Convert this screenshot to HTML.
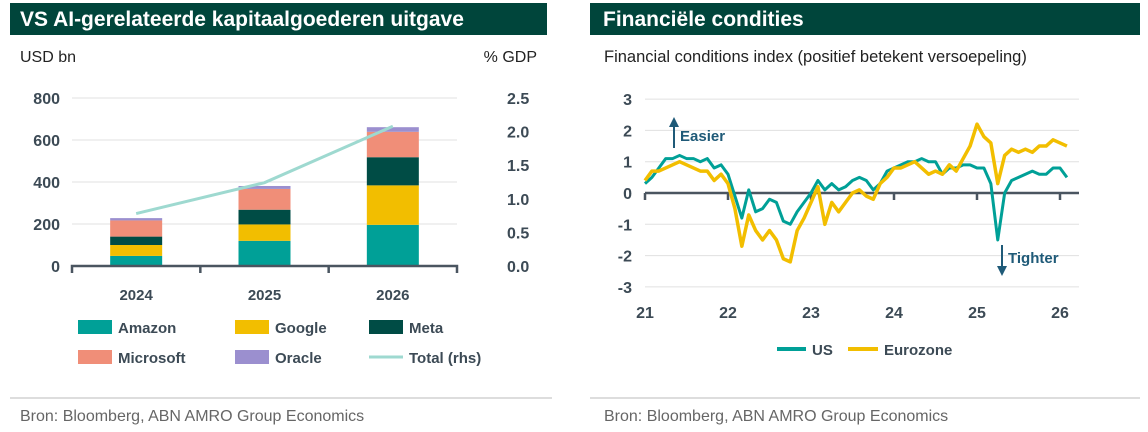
<!DOCTYPE html>
<html><head><meta charset="utf-8"><style>
body{margin:0;width:1148px;height:432px;background:#fff;font-family:"Liberation Sans",sans-serif;overflow:hidden}
svg{position:absolute;left:0;top:0}
</style></head><body>
<svg width="1148" height="432">
<g font-family="Liberation Sans, sans-serif">
<rect x="10" y="3" width="537" height="32" fill="#00453b"/>
<text x="20" y="26" fill="#fff" font-size="21" font-weight="bold">VS AI-gerelateerde kapitaalgoederen uitgave</text>
<rect x="590" y="3" width="550" height="32" fill="#00453b"/>
<text x="603" y="26" fill="#fff" font-size="21" font-weight="bold">Financiële condities</text>
<text x="20" y="62" font-size="16" fill="#222">USD bn</text>
<text x="537" y="62" font-size="16" fill="#222" text-anchor="end">% GDP</text>
<text x="604" y="62" font-size="16.5" fill="#222">Financial conditions index (positief betekent versoepeling)</text>
<line x1="10" y1="398" x2="552" y2="398" stroke="#bbb"/>
<line x1="590" y1="398" x2="1140" y2="398" stroke="#bbb"/>
<text x="20" y="421" font-size="16" fill="#666">Bron: Bloomberg, ABN AMRO Group Economics</text>
<text x="604" y="421" font-size="16" fill="#666">Bron: Bloomberg, ABN AMRO Group Economics</text>
<g id="left"></g><g id="right"></g>
</g>
</svg>
<script>
const years=['2024','2025','2026'];
const amazon=[48,120,196];
const google=[52,78,188];
const meta=[40,70,134];
const microsoft=[77,99,121];
const oracle=[11,14,22];
const totalPct=[0.78,1.24,2.08];
const leftTicks=[0,200,400,600,800];
const rightTicks=['0.0','0.5','1.0','1.5','2.0','2.5'];

const months=['2021-01','2026-02'];
const us=[0.3,0.5,0.8,1.1,1.1,1.2,1.1,1.1,1.0,1.1,0.8,0.9,0.6,-0.1,-0.8,0.1,-0.6,-0.5,-0.2,-0.3,-0.9,-1.0,-0.6,-0.3,0.0,0.4,0.1,0.3,0.1,0.2,0.4,0.5,0.4,0.1,0.3,0.7,0.8,0.9,1.0,1.0,1.1,1.0,1.0,0.6,0.8,0.8,0.9,0.9,0.8,0.8,0.3,-1.5,0.0,0.4,0.5,0.6,0.7,0.6,0.6,0.8,0.8,0.5];
const ez=[0.4,0.7,0.7,0.8,0.9,1.0,0.9,0.8,0.7,0.7,0.4,0.6,0.3,-0.5,-1.7,-0.7,-1.2,-1.5,-1.2,-1.5,-2.1,-2.2,-1.2,-0.8,-0.3,0.2,-1.0,-0.3,-0.6,-0.3,0.0,0.1,-0.1,-0.2,0.3,0.5,0.8,0.8,0.9,1.0,0.8,0.6,0.7,0.6,0.9,0.7,1.1,1.5,2.2,1.8,1.6,0.3,1.2,1.4,1.3,1.4,1.3,1.5,1.5,1.7,1.6,1.5];
const fciTicks=[3,2,1,0,-1,-2,-3];
const yearLabels=['21','22','23','24','25','26'];

const NS='http://www.w3.org/2000/svg';
function mk(p,t,a,txt){const e=document.createElementNS(NS,t);for(const k in a)e.setAttribute(k,a[k]);if(txt!==undefined)e.textContent=txt;p.appendChild(e);return e;}
const L=document.getElementById('left'),R=document.getElementById('right');
const C='#3c4a55';
const lx0=72,lx1=457,ly0=266,ly1=98;
const ly=v=>ly0-(v/800)*(ly0-ly1);
const ry=v=>ly0-(v/2.5)*(ly0-ly1);
const bx=i=>lx0+(lx1-lx0)*(i+0.5)/years.length;
leftTicks.forEach(t=>{
 if(t>0){const g=mk(L,'line',{x1:lx0,x2:lx1,y1:ly(t),y2:ly(t),stroke:'#e0e0e0'});
 
 }
 const e=mk(L,'text',{x:60,y:ly(t)+6,'text-anchor':'end','font-size':16,fill:C,'font-weight':'bold'},t);
 
 
});
rightTicks.forEach(t=>{
 const e=mk(L,'text',{x:507,y:ry(+t)+6,'font-size':16,fill:C,'font-weight':'bold'},t);
 
 
});
const series=[[amazon,'#00a097','amazon'],[google,'#f2be00','google'],[meta,'#004c45','meta'],[microsoft,'#f08e78','microsoft'],[oracle,'#9b8fcf','oracle']];
years.forEach((y,i)=>{
 let base=0;
 series.forEach(([arr,col,n])=>{
  const r=mk(L,'rect',{x:bx(i)-26,width:52,y:ly(base+arr[i]),height:ly(base)-ly(base+arr[i]),fill:col});
  
  
  base+=arr[i];
 });
 const t=mk(L,'text',{x:bx(i),y:300,'text-anchor':'middle','font-size':15,fill:C,'font-weight':'bold'},y);
 
 
});
const ax=mk(L,'path',{d:`M${lx0} ${ly0+7}V${ly0}H${lx1}V${ly0+7}M${lx0+(lx1-lx0)/3} ${ly0}v7M${lx0+2*(lx1-lx0)/3} ${ly0}v7`,stroke:'#4a5560','stroke-width':2.5,fill:'none'});


const tl=mk(L,'polyline',{points:totalPct.map((v,i)=>bx(i)+','+ry(v)).join(' '),fill:'none',stroke:'#9ed9d0','stroke-width':3});


const leg=[[78,327,'#00a097','Amazon'],[235,327,'#f2be00','Google'],[369,327,'#004c45','Meta'],[78,357,'#f08e78','Microsoft'],[235,357,'#9b8fcf','Oracle']];
leg.forEach(([x,y,c,n])=>{
 const g=mk(L,'g',{});
 
 
 mk(g,'rect',{x:x,y:y-7,width:34,height:14,fill:c});
 mk(g,'text',{x:x+40,y:y+6,'font-size':15,fill:C,'font-weight':'bold'},n);
});
const gt=mk(L,'g',{});


mk(gt,'line',{x1:369,x2:403,y1:357,y2:357,stroke:'#9ed9d0','stroke-width':3});
mk(gt,'text',{x:409,y:363,'font-size':15,fill:C,'font-weight':'bold'},'Total (rhs)');

const px0=645,pxY=83,fy0=193,fyu=31.3,pxEnd=1079;
const fx=i=>px0+(i/12)*pxY;
const fy=v=>fy0-v*fyu;
fciTicks.forEach(t=>{
 if(t!==0){const g=mk(R,'line',{x1:px0,x2:pxEnd,y1:fy(t),y2:fy(t),stroke:'#e0e0e0'});
 
 }
 const e=mk(R,'text',{x:632,y:fy(t)+6,'text-anchor':'end','font-size':16,fill:C,'font-weight':'bold'},t);
 
 
});
yearLabels.forEach((l,i)=>{
 const e=mk(R,'text',{x:px0+i*pxY,y:318,'text-anchor':'middle','font-size':16,fill:C,'font-weight':'bold'},l);
 
 
});
const za=mk(R,'path',{d:`M${px0} ${fy0}H${pxEnd}`+yearLabels.map((l,i)=>`M${px0+i*pxY} ${fy0}v7`).join(''),stroke:'#4a5560','stroke-width':2.5,fill:'none'});


const ul=mk(R,'polyline',{points:us.map((v,i)=>fx(i)+','+fy(v)).join(' '),fill:'none',stroke:'#00a097','stroke-width':3,'stroke-linejoin':'round'});


const el=mk(R,'polyline',{points:ez.map((v,i)=>fx(i)+','+fy(v)).join(' '),fill:'none',stroke:'#f2be00','stroke-width':3.5,'stroke-linejoin':'round'});


const a1=mk(R,'g',{});


mk(a1,'path',{d:'M674 148V126',stroke:'#1f5a78','stroke-width':2});
mk(a1,'path',{d:'M669 127L674 117L679 127Z',fill:'#1f5a78'});
mk(a1,'text',{x:680,y:141,'font-size':15,fill:'#1f5a78','font-weight':'bold'},'Easier');
const a2=mk(R,'g',{});


mk(a2,'path',{d:'M1002 245V267',stroke:'#1f5a78','stroke-width':2});
mk(a2,'path',{d:'M997 266L1002 276L1007 266Z',fill:'#1f5a78'});
mk(a2,'text',{x:1008,y:263,'font-size':15,fill:'#1f5a78','font-weight':'bold'},'Tighter');
const l1=mk(R,'g',{});


mk(l1,'line',{x1:777,x2:806,y1:349,y2:349,stroke:'#00a097','stroke-width':4});
mk(l1,'text',{x:812,y:355,'font-size':15,fill:C,'font-weight':'bold'},'US');
const l2=mk(R,'g',{});


mk(l2,'line',{x1:848,x2:878,y1:349,y2:349,stroke:'#f2be00','stroke-width':4});
mk(l2,'text',{x:884,y:355,'font-size':15,fill:C,'font-weight':'bold'},'Eurozone');
</script>
</body></html>
